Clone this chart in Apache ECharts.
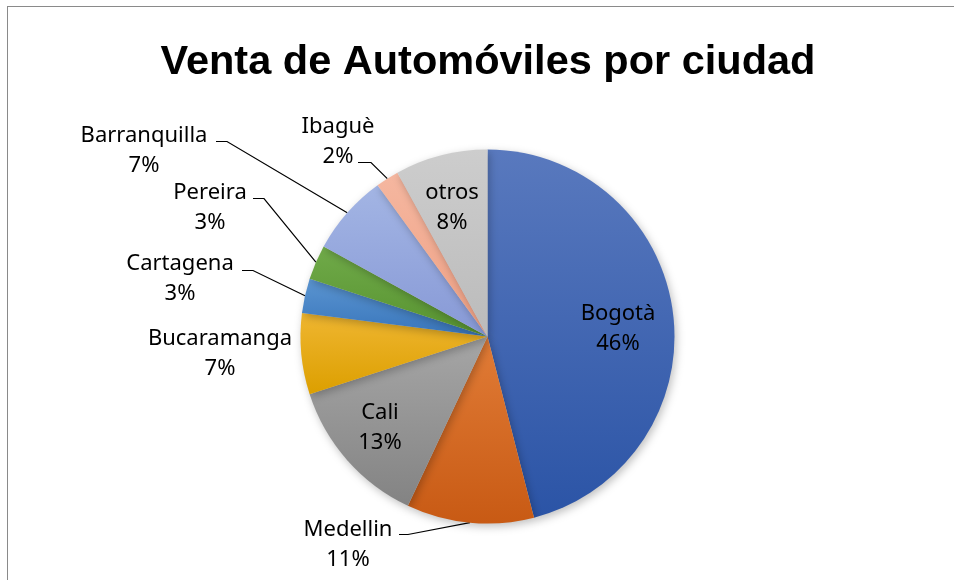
<!DOCTYPE html>
<html>
<head>
<meta charset="utf-8">
<script src="https://cdn.jsdelivr.net/npm/echarts@6/dist/echarts.min.js"></script>
<style>
  html, body { margin: 0; padding: 0; background: #fff; }
  #wrap { position: relative; width: 954px; height: 580px; }
  #chart { position: absolute; left: 0; top: 0; width: 954px; height: 580px; }
  #frame { position: absolute; left: 7px; top: 6px; right: 0; bottom: 0;
           border-top: 1px solid #8a8a8a; border-left: 1px solid #8a8a8a; pointer-events: none; }
</style>
</head>
<body>
<div id="wrap"><div id="chart"></div><div id="frame"></div></div>
<script>
// ---- data ----
const titleText = 'Venta de Automóviles por ciudad';
const categories = ['Bogotà', 'Medellin', 'Cali', 'Bucaramanga', 'Cartagena', 'Pereira', 'Barranquilla', 'Ibaguè', 'otros'];
const shares = [46, 11, 13, 7, 3, 3, 7, 2, 8];

// ---- styles ----
const sliceColors = [
  ['#5979BE', '#2B54A6'],
  ['#E17C37', '#C85A14'],
  ['#A6A6A6', '#838383'],
  ['#EFB631', '#DC9F00'],
  ['#5B95D1', '#3875BB'],
  ['#70AA49', '#579330'],
  ['#A3B5E4', '#8799D6'],
  ['#F5B7A0', '#EFA084'],
  ['#CDCDCD', '#BBBBBB']
];
// label block centres and leader-line elbows (annotation placement)
const labelSpots = [
  { x: 618, y: 329 },
  { x: 348, y: 545, line: [[408, 534.5], [399, 534.5]], edge: [467, 523] },
  { x: 380, y: 428 },
  { x: 220, y: 354 },
  { x: 180, y: 279, line: [[253, 270.5], [242, 270.5]], edge: [305, 293] },
  { x: 210, y: 208, line: [[264, 198.5], [253, 198.5]], edge: [316, 263] },
  { x: 144, y: 151, line: [[227, 141.5], [216, 141.5]], edge: [346, 215] },
  { x: 338, y: 142, line: [[371, 162.5], [358, 162.5]], edge: [384, 179] },
  { x: 452, y: 208 }
];

const chart = echarts.init(document.getElementById('chart'), null, { renderer: 'canvas' });

const data = categories.map((name, i) => {
  const hasLine = !!labelSpots[i].line;
  return {
    name: name,
    value: shares[i],
    itemStyle: {
      color: new echarts.graphic.LinearGradient(0, 0, 0, 1, [
        { offset: 0, color: sliceColors[i][0] },
        { offset: 1, color: sliceColors[i][1] }
      ])
    },
    label: { position: hasLine ? 'outside' : 'inside' },
    labelLine: { show: hasLine }
  };
});

chart.setOption({
  animation: false,
  backgroundColor: '#ffffff',
  title: {
    text: titleText,
    left: 483,
    top: 37,
    textAlign: 'center',
    textStyle: {
      fontFamily: 'Liberation Sans',
      fontWeight: 'bold',
      fontSize: 41.5,
      color: '#000000'
    }
  },
  series: [{
    type: 'pie',
    center: [487.5, 336.5],
    radius: 187,
    startAngle: 90,
    clockwise: true,
    avoidLabelOverlap: false,
    percentPrecision: 0,
    itemStyle: {
      borderWidth: 0,
      shadowBlur: 8,
      shadowOffsetX: 2,
      shadowOffsetY: 3,
      shadowColor: 'rgba(0,0,0,0.25)'
    },
    label: {
      show: true,
      formatter: '{b}\n{d}%',
      fontFamily: 'Noto Sans',
      fontSize: 22,
      lineHeight: 30,
      color: '#000000',
      align: 'center'
    },
    labelLine: {
      lineStyle: { color: '#000000', width: 1.2 },
      smooth: false
    },
    labelLayout: function (params) {
      const s = labelSpots[params.dataIndex];
      const out = { x: s.x, y: s.y, align: 'center', verticalAlign: 'middle' };
      if (s.line) {
        const p0 = (params.labelLinePoints && params.labelLinePoints[0]) ? params.labelLinePoints[0] : s.edge;
        out.labelLinePoints = [p0, s.line[0], s.line[1]];
      }
      return out;
    },
    data: data
  }]
});
</script>
</body>
</html>
